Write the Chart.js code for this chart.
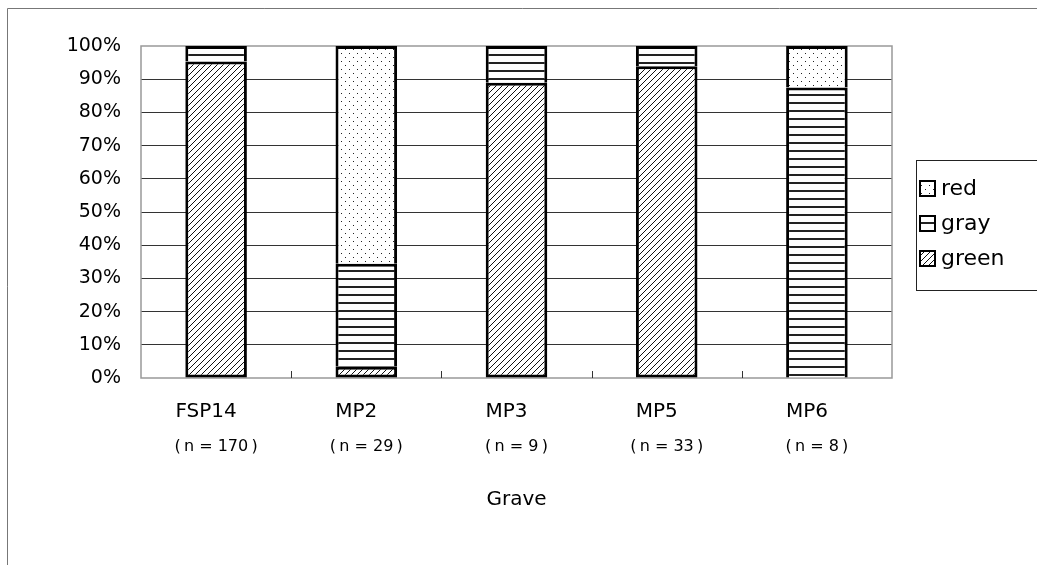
<!DOCTYPE html>
<html lang="en">
<head>
    <meta charset="UTF-8">
    <title>Grave colour composition</title>
    <script src="https://cdn.jsdelivr.net/npm/chart.js"></script>
    <style>
        body {
            margin: 0;
            background-color: #ffffff;
        }

        .chart-box {
            width: 1037px;
            height: 565px;
        }
    </style>
</head>
<body>
    <div class="chart-box">
        <canvas id="barChart"></canvas>
    </div>
    <script>
        // data (percent of each grave)
        var graves = ['FSP14', 'MP2', 'MP3', 'MP5', 'MP6'];
        var counts = [170, 29, 9, 33, 8];
        var greenShare = [95.3, 3.4, 88.9, 93.9, 0];
        var grayShare = [4.7, 31.0, 11.1, 6.1, 87.5];
        var redShare = [0, 65.6, 0, 0, 12.5];
        var yTicks = [0, 10, 20, 30, 40, 50, 60, 70, 80, 90, 100];

        // black-and-white fill patterns
        function makePattern(kind) {
            var c = document.createElement('canvas');
            var g = c.getContext('2d');
            if (kind === 'diag') {
                c.width = 6; c.height = 6;
                g.fillStyle = '#fff';
                g.fillRect(0, 0, 6, 6);
                g.strokeStyle = '#111';
                g.lineWidth = 1;
                g.beginPath();
                g.moveTo(0, 6); g.lineTo(6, 0);
                g.moveTo(-1, 1); g.lineTo(1, -1);
                g.moveTo(5, 7); g.lineTo(7, 5);
                g.stroke();
            } else if (kind === 'hline') {
                c.width = 8; c.height = 8;
                g.fillStyle = '#fff';
                g.fillRect(0, 0, 8, 8);
                g.fillStyle = '#222';
                g.fillRect(0, 6, 8, 2);
            } else {
                c.width = 8; c.height = 8;
                g.fillStyle = '#fff';
                g.fillRect(0, 0, 8, 8);
                g.fillStyle = '#222';
                g.fillRect(1, 1, 1, 1);
                g.fillRect(5, 5, 1, 1);
            }
            return g.createPattern(c, 'repeat');
        }

        var greenFill = makePattern('diag');
        var grayFill = makePattern('hline');
        var redFill = makePattern('dots');

        Chart.defaults.font.family = '"DejaVu Sans", sans-serif';
        Chart.defaults.color = '#000';

        var segBorder = { top: 3, left: 3, right: 3, bottom: 0 };

        var data = {
            labels: graves,
            datasets: [{
                label: 'green',
                data: greenShare,
                backgroundColor: greenFill,
                borderColor: '#000',
                borderWidth: { top: 3, left: 3, right: 3, bottom: 3 },
                borderSkipped: false
            }, {
                label: 'gray',
                data: grayShare,
                backgroundColor: grayFill,
                borderColor: '#000',
                borderWidth: segBorder,
                borderSkipped: false
            }, {
                label: 'red',
                data: redShare,
                backgroundColor: redFill,
                borderColor: '#000',
                borderWidth: segBorder,
                borderSkipped: false
            }]
        };

        // frame, plot border, small category ticks, n-labels and legend
        var decorations = {
            id: 'decorations',
            beforeDraw: function (chart) {
                var ctx = chart.ctx;
                ctx.save();
                ctx.strokeStyle = '#777';
                ctx.lineWidth = 1;
                ctx.beginPath();
                ctx.moveTo(7.5, 565);
                ctx.lineTo(7.5, 8.5);
                ctx.lineTo(1037, 8.5);
                ctx.stroke();
                ctx.restore();
            },
            beforeDatasetsDraw: function (chart) {
                var ctx = chart.ctx;
                var a = chart.chartArea;
                var xs = chart.scales.x;
                ctx.save();
                ctx.strokeStyle = '#999';
                ctx.lineWidth = 1.5;
                ctx.strokeRect(a.left, a.top, a.right - a.left, a.bottom - a.top);
                ctx.strokeStyle = '#333';
                ctx.lineWidth = 1;
                ctx.beginPath();
                for (var i = 1; i < graves.length; i++) {
                    var bx = Math.round((xs.getPixelForValue(i - 1) + xs.getPixelForValue(i)) / 2) + 0.5;
                    ctx.moveTo(bx, a.bottom);
                    ctx.lineTo(bx, a.bottom - 7);
                }
                ctx.stroke();
                ctx.restore();
            },
            afterDraw: function (chart) {
                var ctx = chart.ctx;
                var xs = chart.scales.x;
                ctx.save();
                ctx.fillStyle = '#000';
                ctx.font = '16px "DejaVu Sans"';
                ctx.textAlign = 'center';
                ctx.textBaseline = 'middle';
                for (var i = 0; i < graves.length; i++) {
                    ctx.fillText('(\u2009n = ' + counts[i] + '\u2009)', xs.getPixelForValue(i), 447);
                }

                // legend, top item is the top segment
                ctx.strokeStyle = '#222';
                ctx.lineWidth = 1;
                ctx.strokeRect(916.5, 160.5, 140, 130);
                ctx.font = '22px "DejaVu Sans"';
                ctx.textAlign = 'left';
                var sets = chart.data.datasets.slice().reverse();
                for (var j = 0; j < sets.length; j++) {
                    var cy = 189 + j * 35;
                    ctx.fillStyle = sets[j].backgroundColor;
                    ctx.fillRect(920, cy - 8, 15, 15);
                    ctx.strokeStyle = '#000';
                    ctx.lineWidth = 2;
                    ctx.strokeRect(920, cy - 8, 15, 15);
                    ctx.fillStyle = '#000';
                    ctx.fillText(sets[j].label, 941, cy);
                }
                ctx.restore();
            }
        };

        var options = {
            responsive: true,
            maintainAspectRatio: false,
            animation: false,
            layout: {
                padding: { top: 46, right: 145, left: 0, bottom: 0 }
            },
            plugins: {
                legend: { display: false },
                tooltip: { enabled: false }
            },
            datasets: {
                bar: {
                    categoryPercentage: 1,
                    barPercentage: 0.41
                }
            },
            scales: {
                x: {
                    stacked: true,
                    grid: { display: false, drawTicks: false },
                    border: { display: false },
                    ticks: {
                        font: { size: 20 },
                        padding: 22,
                        labelOffset: -10
                    },
                    title: {
                        display: true,
                        text: 'Grave',
                        font: { size: 20 },
                        padding: { top: 0, bottom: 53 }
                    },
                    afterFit: function (scale) { scale.height = 187; }
                },
                y: {
                    stacked: true,
                    min: 0,
                    max: 100,
                    afterBuildTicks: function (scale) {
                        scale.ticks = yTicks.map(function (v) { return { value: v }; });
                    },
                    grid: {
                        drawTicks: false,
                        color: function (c) {
                            return (c.tick && (c.tick.value === 0 || c.tick.value === 100)) ? 'rgba(0,0,0,0)' : '#333';
                        }
                    },
                    border: { display: false },
                    ticks: {
                        font: { size: 19 },
                        padding: 20,
                        callback: function (v) { return v + '%'; }
                    },
                    afterFit: function (scale) { scale.width = 141; }
                }
            }
        };

        var ctx = document.getElementById('barChart').getContext('2d');
        new Chart(ctx, {
            type: 'bar',
            data: data,
            options: options,
            plugins: [decorations]
        });
    </script>
</body>
</html>
